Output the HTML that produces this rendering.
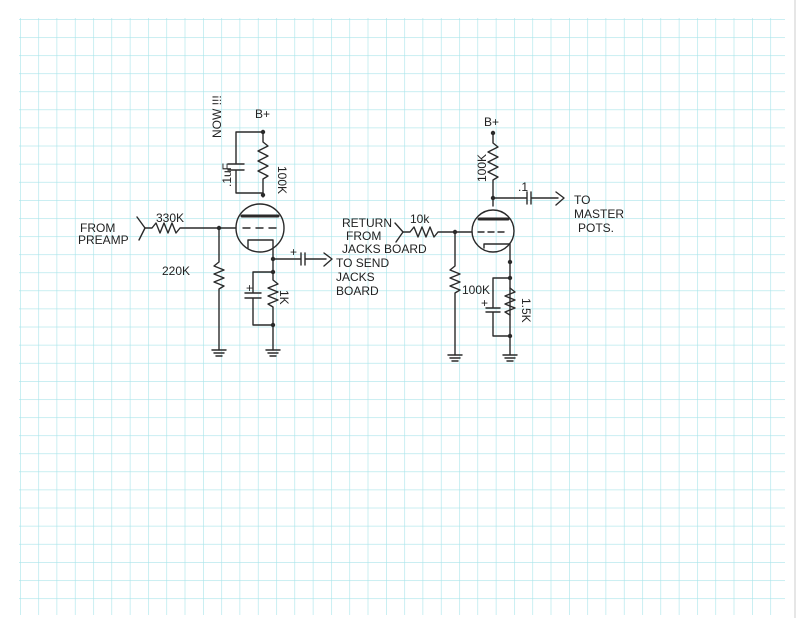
<!DOCTYPE html>
<html><head><style>
html,body{margin:0;padding:0;background:#fff}
svg{display:block}
text{font-family:"Liberation Sans",sans-serif;font-size:12px;fill:#222}
</style></head><body>
<svg width="800" height="618" viewBox="0 0 800 618" xmlns="http://www.w3.org/2000/svg">
<defs>
<pattern id="g" x="20" y="19" width="18.3" height="18.1" patternUnits="userSpaceOnUse">
<path d="M0 0V18.1M0 0H18.3" stroke="#a8e4ea" stroke-width="1.2" fill="none"/>
</pattern>
</defs>
<rect x="0" y="0" width="800" height="618" fill="#fff"/>
<rect x="19" y="18" width="766" height="597" fill="url(#g)"/>
<path d="M795 0V618" stroke="#ccc" stroke-width="1"/>
<g stroke="#2a2a2a" stroke-width="1.4" fill="none" stroke-linecap="round" stroke-linejoin="round">
<path d="M263 132V142 l5 4 -10 5 10 5 -10 5 10 5 -10 5 10 5 -5 3V197"/>
<path d="M263 132H236V164M228 164H244M228 170H244M236 170V193H263"/>
<circle cx="260" cy="228" r="24"/>
<path d="M242 216H278" stroke-width="3"/>
<path d="M243 228H250M256 228H263M269 228H276"/>
<path d="M248 248V240H273V259"/>
<path d="M145 228H152 l4 -5 4 10 4 -10 4 10 4 -10 4 10 4 -5H236"/>
<path d="M137 217L145 228L139 240"/>
<path d="M219 228V262 l-5 4 10 4 -10 4 10 4 -10 4 10 4 -5 3V350"/>
<path d="M212 350H226M214 353H224M216 356H222"/>
<path d="M273 259H301M301 253V265M305 253V265M305 259H326M324 253L332 259L324 266"/>
<path d="M273 259V272H253V293M245 293H261M245 298H261M253 298V325H273"/>
<path d="M273 272V280 l5 4 -10 4 10 4 -10 4 10 4 -10 4 5 3V350"/>
<path d="M266 350H280M268 353H278M270 356H276"/>
<path d="M493 133V143 l5 4 -10 5 10 5 -10 5 10 5 -10 5 10 5 -5 3V206"/>
<path d="M493 198H527M527 192V204M531 192V204M531 198H558M556 192L564 198L556 205"/>
<circle cx="493" cy="231" r="21"/>
<path d="M479 219H508" stroke-width="3"/>
<path d="M478 232H484M488 232H494M498 232H504"/>
<path d="M484 248V244H510V336"/>
<path d="M403 232H410 l4 -5 4 10 4 -10 4 10 4 -10 4 10 4 -5H472"/>
<path d="M395 223L403 232L396 242"/>
<path d="M455 232V266 l-5 4 10 4 -10 4 10 4 -10 4 10 4 -5 3V355"/>
<path d="M448 355H462M450 358H460M452 361H458"/>
<path d="M510 278H493V308M486 308H500M486 312H500M493 312V336H510"/>
<path d="M510 288 l5 4 -10 4 10 4 -10 4 10 4 -10 4 5 3"/>
<path d="M510 336V355M503 355H517M505 358H515M507 361H513"/>
</g>
<g fill="#2a2a2a">
<circle cx="263" cy="132" r="2.2"/><circle cx="263" cy="195" r="2.2"/>
<circle cx="219" cy="228" r="2.2"/><circle cx="273" cy="259" r="2.2"/>
<circle cx="273" cy="272" r="2.2"/><circle cx="273" cy="325" r="2.2"/>
<circle cx="493" cy="133" r="2.2"/><circle cx="493" cy="198" r="2.2"/>
<circle cx="455" cy="232" r="2.2"/><circle cx="510" cy="262" r="2.2"/>
<circle cx="510" cy="278" r="2.2"/><circle cx="510" cy="336" r="2.2"/>
</g>
<text x="255" y="118" font-size="14">B+</text>
<text x="484" y="126" font-size="14">B+</text>
<text x="156" y="222" font-size="14">330K</text>
<text x="80" y="232">FROM</text><text x="78" y="244">PREAMP</text>
<text x="162" y="275" font-size="13">220K</text>
<text x="290" y="256">+</text>
<text x="336" y="267">TO SEND</text><text x="336" y="281">JACKS</text><text x="336" y="295">BOARD</text>
<text x="246" y="292">+</text>
<text transform="translate(278 166) rotate(90)" font-size="13">100K</text>
<text transform="translate(280 290) rotate(90)" font-size="13">1K</text>
<text transform="translate(231 187) rotate(-90)">.1uF</text>
<text transform="translate(221 138) rotate(-90)">NOW !!!</text>
<text x="410" y="223" font-size="14">10k</text>
<text x="342" y="227" font-size="11">RETURN</text><text x="346" y="240" font-size="11">FROM</text><text x="342" y="253" font-size="11">JACKS BOARD</text>
<text x="462" y="294" font-size="13">100K</text>
<text x="481" y="307">+</text>
<text transform="translate(486 182) rotate(-90)" font-size="13">100K</text>
<text transform="translate(522 298) rotate(90)" font-size="13">1.5K</text>
<text x="518" y="191">.1</text>
<text x="574" y="204">TO</text><text x="574" y="218">MASTER</text><text x="578" y="232">POTS.</text>
</svg>
</body></html>
